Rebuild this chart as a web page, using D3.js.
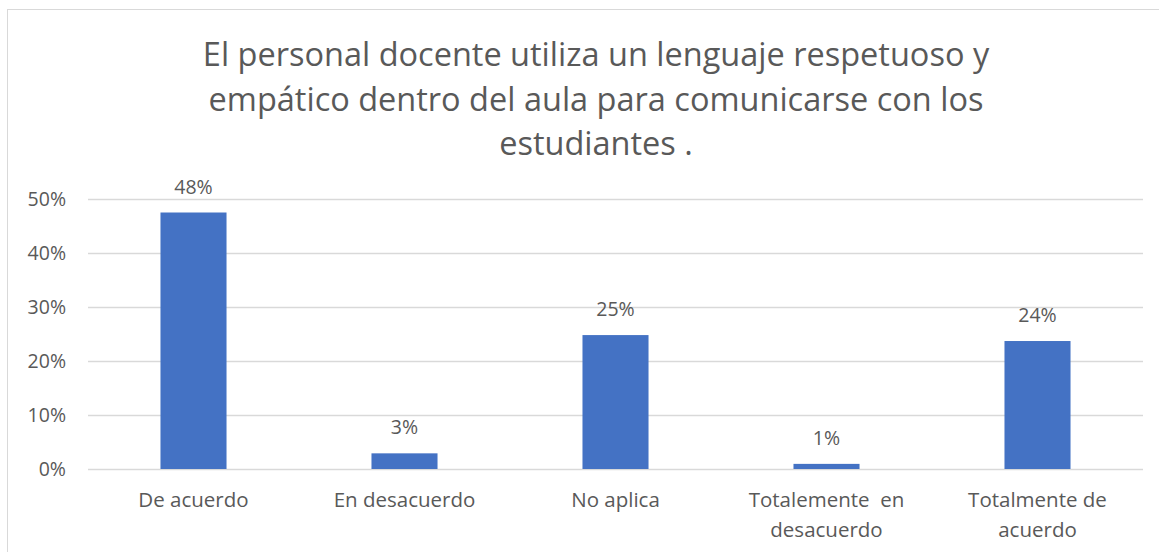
<!DOCTYPE html>
<html>
<head>
<meta charset="utf-8">
<script src="https://cdn.jsdelivr.net/npm/d3@7"></script>
<style>
  body { margin: 0; background: #fff; }
  text { font-family: "Open Sans", "Noto Sans", sans-serif; fill: #595959; }
</style>
</head>
<body>
<script>
var categories = [
  ["De acuerdo"],
  ["En desacuerdo"],
  ["No aplica"],
  ["Totalemente  en", "desacuerdo"],
  ["Totalmente de", "acuerdo"]
];
var values = [0.475, 0.029, 0.248, 0.0095, 0.237];
var yTicks = [0, 0.1, 0.2, 0.3, 0.4, 0.5];
var titleLines = [
  "El personal docente utiliza un lenguaje respetuoso y",
  "empático dentro del aula para comunicarse con los",
  "estudiantes ."
];

var W = 1159, H = 552;
var svg = d3.select("body").append("svg").attr("width", W).attr("height", H);

// chart frame (only top and left edges are inside the picture)
svg.append("rect")
  .attr("x", 7.5).attr("y", 9.5)
  .attr("width", W + 20).attr("height", H + 20)
  .attr("fill", "#fff").attr("stroke", "#d9d9d9");

var plotL = 88, plotR = 1143, plotT = 199, plotB = 469;

var x = d3.scaleBand().domain(d3.range(categories.length))
  .range([plotL, plotR]).paddingInner(0.687).paddingOuter(0.3435);
var y = d3.scaleLinear().domain([0, 0.5]).range([plotB, plotT]);

// gridlines
svg.append("g").selectAll("line").data(yTicks).join("line")
  .attr("x1", plotL).attr("x2", plotR)
  .attr("y1", d => Math.round(y(d)) + 0.5).attr("y2", d => Math.round(y(d)) + 0.5)
  .attr("stroke", "#d9d9d9").attr("stroke-width", 1.3);

var yAxis = d3.axisLeft(y).tickValues(yTicks).tickFormat(d3.format(".0%")).tickSize(0).tickPadding(22);
var gy = svg.append("g").attr("transform", "translate(" + plotL + ",0)").call(yAxis);
gy.select(".domain").remove();
gy.selectAll("text").style("font-size", "19.5px").style("fill", "#595959")
  .style("font-family", '"Open Sans", sans-serif');

// bars
svg.append("g").selectAll("rect").data(values).join("rect")
  .attr("x", (d, i) => x(i)).attr("width", x.bandwidth())
  .attr("y", d => y(d)).attr("height", d => plotB - y(d))
  .attr("fill", "#4472c4");

// data labels
svg.append("g").selectAll("text").data(values).join("text")
  .attr("x", (d, i) => x(i) + x.bandwidth() / 2)
  .attr("y", d => y(d) - 19)
  .attr("text-anchor", "middle")
  .style("font-size", "19.5px")
  .text(d => d3.format(".0%")(d));

// category labels
var cl = svg.append("g").selectAll("text").data(categories).join("text")
  .attr("x", (d, i) => x(i) + x.bandwidth() / 2)
  .attr("y", 507)
  .attr("text-anchor", "middle")
  .style("font-size", "20.5px")
  .style("white-space", "pre");
cl.selectAll("tspan").data(d => d).join("tspan")
  .attr("x", function () { return this.parentNode.getAttribute("x"); })
  .attr("dy", (d, i) => i ? 30 : 0)
  .text(d => d);

// title
svg.append("g").selectAll("text").data(titleLines).join("text")
  .attr("x", 596).attr("y", (d, i) => 66 + i * 44.5)
  .attr("text-anchor", "middle")
  .style("font-size", "32.5px")
  .text(d => d);
</script>
</body>
</html>
